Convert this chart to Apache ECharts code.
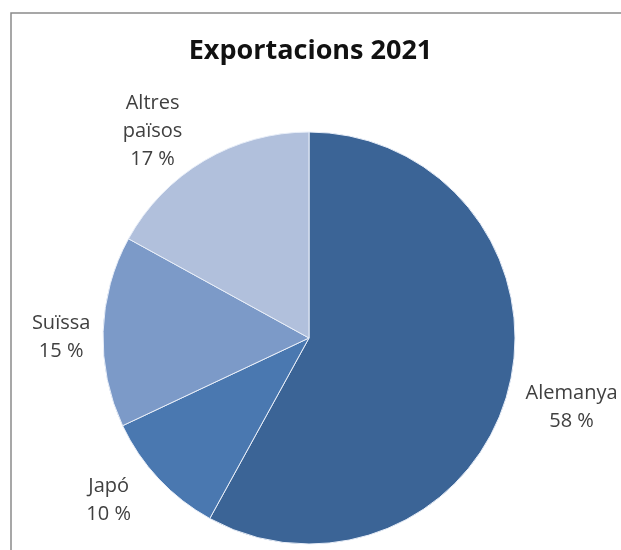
<!DOCTYPE html>
<html>
<head>
<meta charset="utf-8">
<script src="https://cdn.jsdelivr.net/npm/echarts@6/dist/echarts.min.js"></script>
<style>
html,body{margin:0;padding:0;background:#fff;}
#chart{width:621px;height:550px;}
</style>
</head>
<body>
<div id="chart"></div>
<script>
const titleText = 'Exportacions 2021';
const categories = ['Alemanya', 'Japó', 'Suïssa', 'Altres\npaïsos'];
const values = [58, 10, 15, 17];
const colors = ['#3b6496', '#4a78b0', '#7c9ac8', '#b1c0dc'];
const labelOffsets = [[3, 3], [-5, -21], [20, 8], [-20, 24]];

const chart = echarts.init(document.getElementById('chart'), null, {renderer: 'canvas'});
const center = [309, 338];

const pieData = categories.map((c, i) => ({
  name: c, value: values[i], itemStyle: {color: colors[i]}
}));
const labelData = categories.map((c, i) => ({
  name: c, value: values[i], label: {offset: labelOffsets[i]}
}));

chart.setOption({
  animation: false,
  title: {
    text: titleText, left: 'center', top: 33,
    textStyle: {fontFamily: 'Open Sans', fontWeight: 'bold', fontSize: 27, color: '#111'}
  },
  graphic: [
    {type: 'polyline', shape: {points: [[11, 550], [11, 13], [621, 13]]},
     style: {stroke: '#8a8a8a', lineWidth: 1.5, fill: null}, silent: true}
  ],
  series: [
    {
      type: 'pie', center: center, radius: 206, startAngle: 90, clockwise: true,
      data: pieData, label: {show: false}, labelLine: {show: false},
      itemStyle: {borderColor: '#e8eef8', borderWidth: 1},
      emphasis: {disabled: true}, silent: true
    },
    {
      type: 'pie', center: center, radius: [220, 310], startAngle: 90, clockwise: true,
      data: labelData, silent: true, emphasis: {disabled: true},
      itemStyle: {color: 'rgba(0,0,0,0)'},
      label: {
        show: true, position: 'inside', rotate: 0,
        formatter: p => p.name + '\n' + p.value + ' %',
        fontFamily: 'Open Sans', fontSize: 20, lineHeight: 28, color: '#404040', align: 'center'
      },
      labelLine: {show: false}
    }
  ]
});
</script>
</body>
</html>
